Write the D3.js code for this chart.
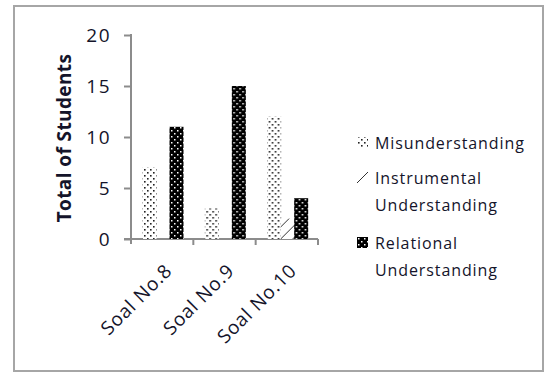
<!DOCTYPE html>
<html>
<head>
<meta charset="utf-8">
<script src="https://cdn.jsdelivr.net/npm/d3@7"></script>
<style>
  html, body { margin: 0; padding: 0; background: #fff; }
  svg { display: block; }
  text { font-family: "Open Sans", "DejaVu Sans", sans-serif; fill: #14142a; }
</style>
</head>
<body>
<svg id="chart" width="545" height="374"></svg>
<script>
// Questions (Soal) and the number of students per understanding type
const categories = ["Soal No.8", "Soal No.9", "Soal No.10"];
const seriesNames = ["Misunderstanding", "Instrumental Understanding", "Relational Understanding"];
const misunderstanding = [7, 3, 12];
const instrumental = [0, 0, 2];
const relational = [11, 15, 4];
const yTicks = [0, 5, 10, 15, 20];
const legendLines = [["Misunderstanding"], ["Instrumental", "Understanding"], ["Relational", "Understanding"]];

const seriesValues = [misunderstanding, instrumental, relational];
const patternIds = ["pat-mis", "pat-ins", "pat-rel"];

const svg = d3.select("#chart");
const defs = svg.append("defs");

// Sparse black dots on white
const pMis = defs.append("pattern").attr("id", "pat-mis")
  .attr("patternUnits", "userSpaceOnUse").attr("width", 6).attr("height", 6);
pMis.append("rect").attr("width", 6).attr("height", 6).attr("fill", "#fff");
pMis.append("rect").attr("x", 1).attr("y", 1).attr("width", 1.6).attr("height", 1.6).attr("fill", "#222");
pMis.append("rect").attr("x", 4).attr("y", 4).attr("width", 1.6).attr("height", 1.6).attr("fill", "#222");

// Wide upward diagonal strokes on white
const pIns = defs.append("pattern").attr("id", "pat-ins")
  .attr("patternUnits", "userSpaceOnUse").attr("width", 12).attr("height", 12);
pIns.append("rect").attr("width", 12).attr("height", 12).attr("fill", "#fff");
pIns.append("path").attr("d", "M0,12 L12,0 M-2,2 L2,-2 M10,14 L14,10")
  .attr("stroke", "#333").attr("stroke-width", 1);

// White dots on black
const pRel = defs.append("pattern").attr("id", "pat-rel")
  .attr("patternUnits", "userSpaceOnUse").attr("width", 6).attr("height", 6);
pRel.append("rect").attr("width", 6).attr("height", 6).attr("fill", "#000");
pRel.append("rect").attr("x", 1).attr("y", 1).attr("width", 1.5).attr("height", 1.5).attr("fill", "#fff");
pRel.append("rect").attr("x", 4).attr("y", 4).attr("width", 1.5).attr("height", 1.5).attr("fill", "#fff");

// Outer frame
svg.append("rect").attr("x", 14).attr("y", 6).attr("width", 529).attr("height", 365)
  .attr("fill", "#fff").attr("stroke", "#a6a6a6").attr("stroke-width", 2);

const plotLeft = 131, plotRight = 318, plotTop = 35, plotBottom = 239;

const x0 = d3.scaleBand().domain(categories).range([plotLeft, plotRight]).padding(0);
const x1 = d3.scaleBand().domain(d3.range(seriesNames.length)).range([11.5, 52]).padding(0);
const y = d3.scaleLinear().domain([0, 20]).range([plotBottom, plotTop]);

const axisColor = "#8c8c8c";

// Y axis
const yAxis = svg.append("g").attr("transform", `translate(${plotLeft},0)`)
  .call(d3.axisLeft(y).tickValues(yTicks).tickSize(7).tickPadding(13));
yAxis.select(".domain").attr("stroke", axisColor).attr("stroke-width", 2).attr("d", `M0,${plotTop - 1}V${plotBottom + 5}`);
yAxis.selectAll(".tick line").attr("stroke", axisColor).attr("stroke-width", 2);
yAxis.selectAll(".tick text").style("font-size", "19px").style("fill", "#14142a")
  .style("letter-spacing", "1.5px");

// X axis
const xAxisG = svg.append("g").attr("transform", `translate(0,${plotBottom})`);
xAxisG.append("line").attr("x1", plotLeft - 7).attr("x2", plotRight).attr("y1", 0).attr("y2", 0)
  .attr("stroke", axisColor).attr("stroke-width", 2);
xAxisG.selectAll(".xtick").data(categories).join("line")
  .attr("x1", d => x0(d) + x0.bandwidth()).attr("x2", d => x0(d) + x0.bandwidth())
  .attr("y1", 0).attr("y2", 6).attr("stroke", axisColor).attr("stroke-width", 2);
xAxisG.selectAll(".xlabel").data(categories).join("text")
  .attr("text-anchor", "end")
  .attr("transform", d => `translate(${x0(d) + x0.bandwidth() / 2 + 11},${33}) rotate(-45)`)
  .style("font-size", "19px").style("letter-spacing", "0.8px")
  .text(d => d);

// Bars
const groups = svg.append("g").selectAll("g").data(categories).join("g")
  .attr("transform", d => `translate(${x0(d)},0)`);
groups.selectAll("rect")
  .data((d, i) => seriesValues.map((vals, s) => ({ s, v: vals[i] })))
  .join("rect")
  .attr("x", d => x1(d.s))
  .attr("width", x1.bandwidth() + 0.5)
  .attr("y", d => y(d.v))
  .attr("height", d => y(0) - y(d.v))
  .attr("fill", d => `url(#${patternIds[d.s]})`);

// Y title
svg.append("text")
  .attr("transform", "translate(71,138) rotate(-90)")
  .attr("text-anchor", "middle")
  .style("font-size", "19px").style("font-weight", "bold").style("letter-spacing", "0.4px")
  .text("Total of Students");

// Legend
const legendRowY = [143, 178, 243];
const legend = svg.append("g");
legendLines.forEach((lines, i) => {
  legend.append("rect")
    .attr("x", 357).attr("y", legendRowY[i] - 6).attr("width", 11).attr("height", 11)
    .attr("fill", `url(#${patternIds[i]})`);
  lines.forEach((ln, j) => {
    legend.append("text")
      .attr("x", 375).attr("y", legendRowY[i] + j * 27 + 6)
      .style("font-size", "16px").style("letter-spacing", "0.9px")
      .text(ln);
  });
});
</script>
</body>
</html>
